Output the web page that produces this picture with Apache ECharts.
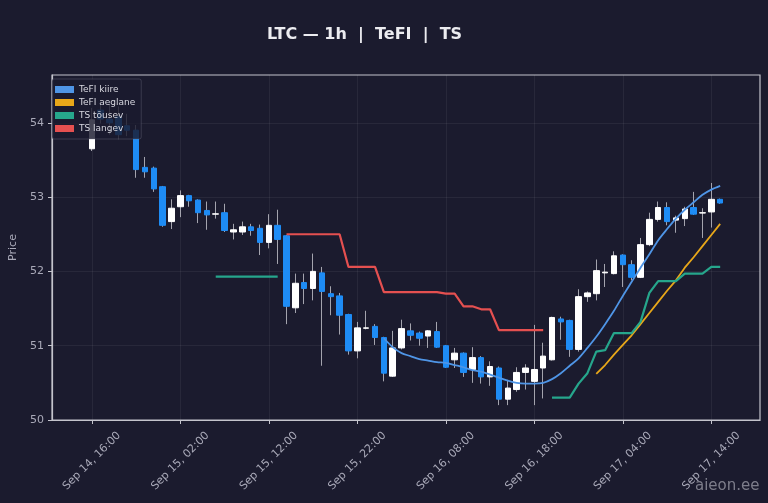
<!DOCTYPE html>
<html>
<head>
<meta charset="utf-8">
<script src="https://cdn.jsdelivr.net/npm/echarts@6/dist/echarts.min.js"></script>
<style>
  html, body { margin: 0; padding: 0; background: #1b1b2e; }
  #chart { width: 768px; height: 503px; }
</style>
</head>
<body>
<div id="chart"></div>
<script>
// hourly axis, Sep 14 12:00 .. Sep 17 19:00 (a few empty hours each side as padding)
const startDay = 14
const startHour = 12
const hourCount = 80

const tickLabels = [
  'Sep 14, 16:00', 'Sep 15, 02:00', 'Sep 15, 12:00', 'Sep 15, 22:00',
  'Sep 16, 08:00', 'Sep 16, 18:00', 'Sep 17, 04:00', 'Sep 17, 14:00'
]
const priceTicks = [50, 51, 52, 53, 54]

// candles start at Sep 14 16:00 -> [open, close, low, high]
const candleStart = 4
const ohlc = [
  [53.65, 54.04, 53.62, 54.20], [54.17, 54.05, 53.99, 54.24], [54.05, 54.00, 53.84, 54.26],
  [54.08, 53.84, 53.78, 54.22], [53.96, 53.90, 53.82, 54.12], [53.90, 53.37, 53.26, 53.97],
  [53.40, 53.34, 53.26, 53.54], [53.39, 53.11, 53.07, 53.41], [53.14, 52.62, 52.60, 53.15],
  [52.67, 52.85, 52.57, 52.97], [52.87, 53.02, 52.73, 53.09], [53.02, 52.95, 52.87, 53.03],
  [52.96, 52.79, 52.65, 52.97], [52.82, 52.76, 52.56, 52.94], [52.77, 52.775, 52.71, 52.94],
  [52.79, 52.55, 52.53, 52.91], [52.53, 52.56, 52.43, 52.64], [52.53, 52.60, 52.49, 52.67],
  [52.60, 52.55, 52.48, 52.64], [52.58, 52.39, 52.22, 52.63], [52.39, 52.62, 52.31, 52.77],
  [52.62, 52.43, 52.10, 52.83], [52.48, 51.53, 51.29, 52.49], [51.51, 51.84, 51.44, 51.97],
  [51.85, 51.77, 51.56, 51.97], [51.77, 52.00, 51.61, 52.24], [51.98, 51.73, 50.73, 52.06],
  [51.70, 51.66, 51.41, 51.80], [51.67, 51.41, 51.15, 51.71], [51.42, 50.93, 50.88, 51.43],
  [50.93, 51.24, 50.83, 51.32], [51.235, 51.24, 51.22, 51.47], [51.26, 51.11, 51.01, 51.29],
  [51.11, 50.63, 50.52, 51.12], [50.59, 50.97, 50.58, 51.20], [50.97, 51.23, 50.95, 51.35],
  [51.20, 51.14, 51.07, 51.30], [51.17, 51.10, 51.00, 51.19], [51.13, 51.20, 50.97, 51.21],
  [51.19, 50.98, 50.97, 51.32], [51.00, 50.71, 50.70, 51.01], [50.81, 50.90, 50.70, 50.97],
  [50.90, 50.64, 50.58, 50.91], [50.68, 50.84, 50.50, 50.98], [50.84, 50.58, 50.49, 50.86],
  [50.58, 50.72, 50.46, 50.79], [50.70, 50.28, 50.20, 50.72], [50.28, 50.43, 50.20, 50.54],
  [50.41, 50.64, 50.38, 50.71], [50.64, 50.70, 50.41, 50.75], [50.52, 50.68, 50.20, 51.28],
  [50.70, 50.86, 50.29, 51.04], [50.81, 51.38, 50.80, 51.39], [51.36, 51.32, 51.08, 51.39],
  [51.34, 50.95, 50.85, 51.35], [50.95, 51.66, 50.92, 51.76], [51.66, 51.71, 51.59, 51.73],
  [51.70, 52.01, 51.61, 52.16], [51.98, 51.99, 51.79, 52.10], [51.97, 52.21, 51.96, 52.27],
  [52.22, 52.09, 51.79, 52.23], [52.09, 51.92, 51.88, 52.15], [51.92, 52.36, 51.91, 52.45],
  [52.36, 52.70, 52.34, 52.79], [52.70, 52.86, 52.67, 52.94], [52.86, 52.67, 52.62, 52.93],
  [52.69, 52.72, 52.52, 52.75], [52.71, 52.84, 52.61, 52.87], [52.86, 52.77, 52.76, 53.07],
  [52.785, 52.79, 52.45, 52.85], [52.80, 52.97, 52.59, 53.19], [52.97, 52.92, 52.91, 52.98]
]

// TeFI kiire, from Sep 16 01:00
const fastStart = 37
const tefiFast = [
  51.10, 50.98, 50.90, 50.86, 50.82, 50.80, 50.78, 50.77, 50.74, 50.71,
  50.67, 50.65, 50.61, 50.57, 50.53, 50.50, 50.49, 50.49, 50.50, 50.55,
  50.63, 50.73, 50.83, 50.97, 51.12, 51.29, 51.47, 51.67, 51.86, 52.05,
  52.23, 52.42, 52.57, 52.71, 52.83, 52.93, 53.03, 53.10, 53.15
]

// TeFI aeglane, from Sep 17 01:00
const slowStart = 61
const tefiSlow = [
  50.62, 50.74, 50.88, 51.01, 51.14, 51.29, 51.44, 51.59, 51.74, 51.88,
  52.05, 52.19, 52.34, 52.49, 52.64
]

// TS tõusev: two runs
const tsUpStartA = 18
const tsUpA = [51.93, 51.93, 51.93, 51.93, 51.93, 51.93, 51.93, 51.93]
const tsUpStartB = 56
const tsUpB = [
  50.30, 50.30, 50.30, 50.49, 50.63, 50.92, 50.94, 51.17, 51.17, 51.17,
  51.32, 51.71, 51.87, 51.87, 51.87, 51.97, 51.97, 51.97, 52.06, 52.06
]

// TS langev, from Sep 15 14:00
const tsDownStart = 26
const tsDown = [
  52.50, 52.50, 52.50, 52.50, 52.50, 52.50, 52.50, 52.06, 52.06, 52.06,
  52.06, 51.72, 51.72, 51.72, 51.72, 51.72, 51.72, 51.72, 51.70, 51.70,
  51.53, 51.53, 51.49, 51.49, 51.21, 51.21, 51.21, 51.21, 51.21, 51.21
]

const months = 'Sep'
let categories = []
for (let i = 0; i < hourCount; i++) {
  let h = startHour + i
  let day = startDay + Math.floor(h / 24)
  let hh = String(h % 24).padStart(2, '0')
  categories.push(months + ' ' + day + ', ' + hh + ':00')
}

function pad(start, values) {
  let out = new Array(hourCount).fill('-')
  values.forEach((v, k) => { out[start + k] = v })
  return out
}

let wickData = pad(candleStart, ohlc)
let bodyData = pad(candleStart, ohlc.map(c => [c[0], c[1], Math.min(c[0], c[1]), Math.max(c[0], c[1])]))
let tsUpData = pad(tsUpStartB, tsUpB)
tsUpA.forEach((v, k) => { tsUpData[tsUpStartA + k] = v })

const showTick = (idx, value) => tickLabels.indexOf(value) >= 0
const textColor = '#a9a9b8'
const frameColor = '#c4c4cc'

let chart = echarts.init(document.getElementById('chart'))

chart.setOption({
  backgroundColor: '#1b1b2e',
  animation: false,
  title: {
    text: 'LTC — 1h  |  TeFI  |  TS',
    left: 262,
    top: 22,
    textStyle: { color: '#ececf0', fontSize: 16, fontWeight: 'bold', fontFamily: 'DejaVu Sans' }
  },
  legend: {
    data: ['TeFI kiire', 'TeFI aeglane', 'TS tõusev', 'TS langev'],
    orient: 'vertical',
    left: 52,
    top: 79,
    icon: 'rect',
    itemWidth: 19,
    itemHeight: 7,
    itemGap: 4,
    padding: [6, 6, 6, 3],
    backgroundColor: 'rgba(27,27,46,0.82)',
    borderColor: 'rgba(120,120,140,0.35)',
    borderWidth: 1,
    borderRadius: 2,
    textStyle: { color: '#d8d8e0', fontSize: 9, fontFamily: 'DejaVu Sans' }
  },
  grid: {
    left: 46, right: 8, top: 75, bottom: 83,
    show: true,
    borderColor: frameColor,
    borderWidth: 1.2,
    backgroundColor: 'transparent'
  },
  xAxis: {
    type: 'category',
    data: categories,
    boundaryGap: true,
    axisLine: { show: true, lineStyle: { color: frameColor, width: 1.2 } },
    axisTick: { show: true, alignWithLabel: true, interval: showTick, length: 4, lineStyle: { color: frameColor } },
    axisLabel: {
      interval: showTick, rotate: 45, color: textColor, fontSize: 11,
      fontFamily: 'DejaVu Sans', margin: 41, align: 'center', verticalAlign: 'middle'
    },
    splitLine: {
      show: true, alignWithLabel: true, interval: showTick,
      lineStyle: { color: 'rgba(255,255,255,0.06)', width: 1 }
    }
  },
  yAxis: {
    type: 'value',
    min: 50,
    max: 54.643,
    interval: 1,
    name: 'Price',
    nameLocation: 'middle',
    nameGap: 33,
    nameTextStyle: { color: textColor, fontSize: 11, fontFamily: 'DejaVu Sans' },
    axisLine: { show: true, lineStyle: { color: frameColor, width: 1.2 } },
    axisTick: { show: true, length: 4, customValues: priceTicks, lineStyle: { color: frameColor } },
    axisLabel: {
      color: textColor, fontSize: 11, fontFamily: 'DejaVu Sans', margin: 8,
      customValues: priceTicks
    },
    splitLine: { show: true, lineStyle: { color: 'rgba(255,255,255,0.06)', width: 1 } }
  },
  graphic: [{
    type: 'text',
    left: 695,
    top: 479,
    style: { text: 'aieon.ee', fill: 'rgba(190,190,200,0.6)', font: '15px DejaVu Sans' }
  }],
  series: [
    {
      name: 'wick',
      type: 'candlestick',
      data: wickData,
      barWidth: 1,
      itemStyle: { color: '#a4a4ae', color0: '#a4a4ae', borderColor: '#a4a4ae', borderColor0: '#a4a4ae', borderWidth: 1 },
      z: 1
    },
    {
      name: 'candles',
      type: 'candlestick',
      data: bodyData,
      barWidth: 6,
      itemStyle: { color: '#ffffff', color0: '#1e8cf5', borderColor: '#ffffff', borderColor0: '#1e8cf5', borderWidth: 1 },
      z: 2
    },
    {
      name: 'TeFI kiire',
      type: 'line',
      data: pad(fastStart, tefiFast),
      symbol: 'none',
      smooth: 0.3,
      color: '#4f95e6',
      lineStyle: { width: 1.8 },
      z: 3
    },
    {
      name: 'TeFI aeglane',
      type: 'line',
      data: pad(slowStart, tefiSlow),
      symbol: 'none',
      color: '#e8a719',
      lineStyle: { width: 1.8 },
      z: 3
    },
    {
      name: 'TS tõusev',
      type: 'line',
      data: tsUpData,
      symbol: 'none',
      color: '#26a68c',
      lineStyle: { width: 2.2 },
      z: 3
    },
    {
      name: 'TS langev',
      type: 'line',
      data: pad(tsDownStart, tsDown),
      symbol: 'none',
      color: '#e55050',
      lineStyle: { width: 2.2 },
      z: 3
    }
  ]
})
</script>
</body>
</html>
